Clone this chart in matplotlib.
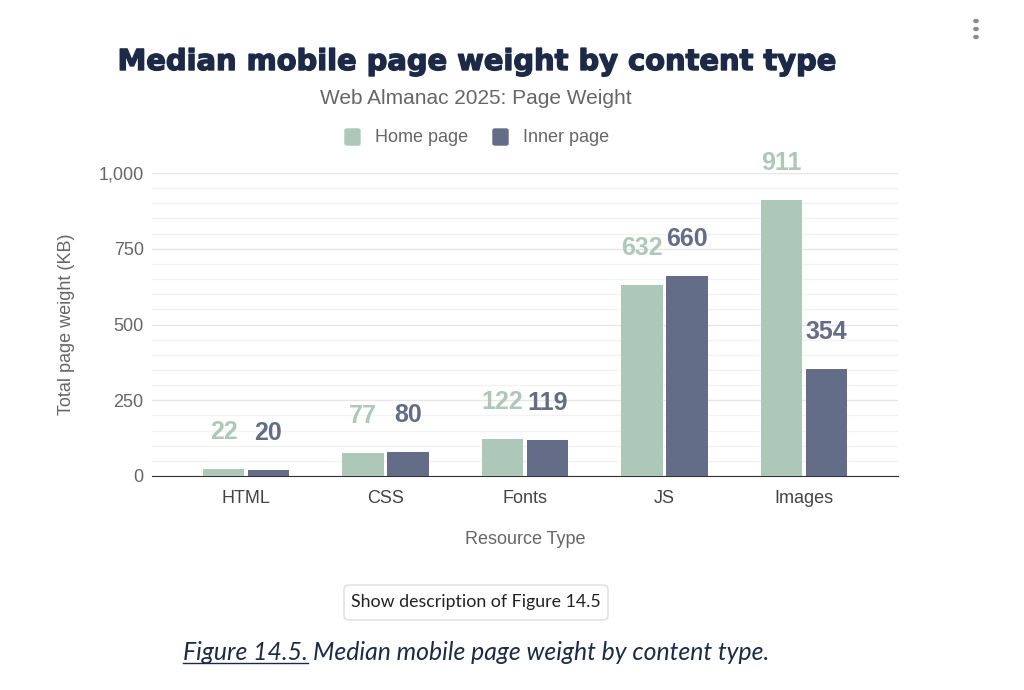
import numpy as np
import matplotlib.pyplot as plt
import matplotlib.patheffects as pe
from matplotlib.patches import FancyBboxPatch
from matplotlib.lines import Line2D

categories = ['HTML', 'CSS', 'Fonts', 'JS', 'Images']
home_page = [22, 77, 122, 632, 911]
inner_page = [20, 80, 119, 660, 354]
series_names = ['Home page', 'Inner page']
y_ticks = [0, 250, 500, 750, 1000]
y_tick_labels = ['0', '250', '500', '750', '1,000']

home_color = '#adc8b9'
inner_color = '#646d87'
navy = '#1c2a48'
grey = '#666666'

fig = plt.figure(figsize=(10.24, 6.9), dpi=100)
ax = fig.add_axes([152 / 1024, 1 - 476 / 690, 746 / 1024, 303 / 690])

x = np.arange(len(categories))
w = 0.295
off = 0.161
ax.bar(x - off, home_page, w, color=home_color, zorder=3)
ax.bar(x + off, inner_page, w, color=inner_color, zorder=3)

for xi, v in zip(x, home_page):
    ax.annotate(str(v), (xi - off, v), xytext=(0, 37), textcoords='offset pixels',
                ha='center', va='center', fontsize=18, fontweight='bold',
                color=home_color, family='Liberation Sans', annotation_clip=False)
for xi, v in zip(x, inner_page):
    ax.annotate(str(v), (xi + off, v), xytext=(0, 37), textcoords='offset pixels',
                ha='center', va='center', fontsize=18, fontweight='bold',
                color=inner_color, family='Liberation Sans', annotation_clip=False)

ax.set_xlim(-0.674, 4.674)
ax.set_ylim(0, 1000)
ax.set_yticks(y_ticks)
ax.set_yticklabels(y_tick_labels)
ax.set_yticks(np.arange(0, 1001, 50), minor=True)
ax.grid(axis='y', which='major', color='#e6e6e6', linewidth=1, zorder=0)
ax.grid(axis='y', which='minor', color='#f2f2f2', linewidth=1, zorder=0)
ax.set_xticks(x)
ax.set_xticklabels(categories)
ax.tick_params(axis='both', which='both', length=0)
ax.tick_params(axis='both', labelsize=13, labelcolor=grey, labelfontfamily='Liberation Sans')
ax.tick_params(axis='x', pad=10, labelcolor='#444444')
ax.tick_params(axis='y', pad=6)
for s in ['top', 'right', 'left']:
    ax.spines[s].set_visible(False)
ax.spines['bottom'].set_color('#333333')
ax.set_ylabel('Total page weight (KB)', fontsize=13, color=grey, family='Liberation Sans', labelpad=17)
ax.set_xlabel('Resource Type', fontsize=13, color=grey, family='Liberation Sans', labelpad=17)

fig.text(476 / 1024, 1 - 62 / 690, 'Median mobile page weight by content type',
         ha='center', va='center', fontsize=20.8, fontweight='heavy', color=navy, family='DejaVu Sans',
         path_effects=[pe.withStroke(linewidth=1.0, foreground=navy)])
fig.text(476 / 1024, 1 - 99 / 690, 'Web Almanac 2025: Page Weight',
         ha='center', va='center', fontsize=15, color=grey, family='Liberation Sans')

# legend
for px, name, c in [(345, series_names[0], home_color), (493, series_names[1], inner_color)]:
    fig.patches.append(FancyBboxPatch((px / 1024, 1 - 145 / 690), 15 / 1024, 16 / 690,
                                      boxstyle='round,pad=0,rounding_size=0.002',
                                      transform=fig.transFigure, color=c))
    fig.text((px + 30) / 1024, 1 - 137 / 690, name, ha='left', va='center',
             fontsize=13, color=grey, family='Liberation Sans')

# three dots menu
for yy in [21, 29, 37]:
    fig.patches.append(plt.Circle((976 / 1024, 1 - yy / 690), 2.2 / 1024,
                                  transform=fig.transFigure, color='#8a8a8a'))

# button
fig.patches.append(FancyBboxPatch((344 / 1024, 1 - 620 / 690), 264 / 1024, 35 / 690,
                                  boxstyle='round,pad=0,rounding_size=0.006',
                                  transform=fig.transFigure, facecolor='white',
                                  edgecolor='#dddddd', linewidth=1))
fig.text(476 / 1024, 1 - 602 / 690, 'Show description of Figure 14.5', ha='center', va='center',
         fontsize=12.8, color='#222222', family='Lato')

# caption
t1 = fig.text(183 / 1024, 1 - 652 / 690, 'Figure 14.5.', ha='left', va='center',
              fontsize=17.8, style='italic', color=navy, family='Lato')
fig.canvas.draw()
bb = t1.get_window_extent()
fig.text(bb.x1 / 1024 + 5 / 1024, 1 - 652 / 690, 'Median mobile page weight by content type.',
         ha='left', va='center', fontsize=17.8, style='italic', color=navy, family='Lato')
fig.lines.append(Line2D([bb.x0 / 1024, bb.x1 / 1024], [(bb.y0 + 1) / 690, (bb.y0 + 1) / 690],
                        transform=fig.transFigure, color=navy, linewidth=1))

fig.savefig('out.png', dpi=100)
